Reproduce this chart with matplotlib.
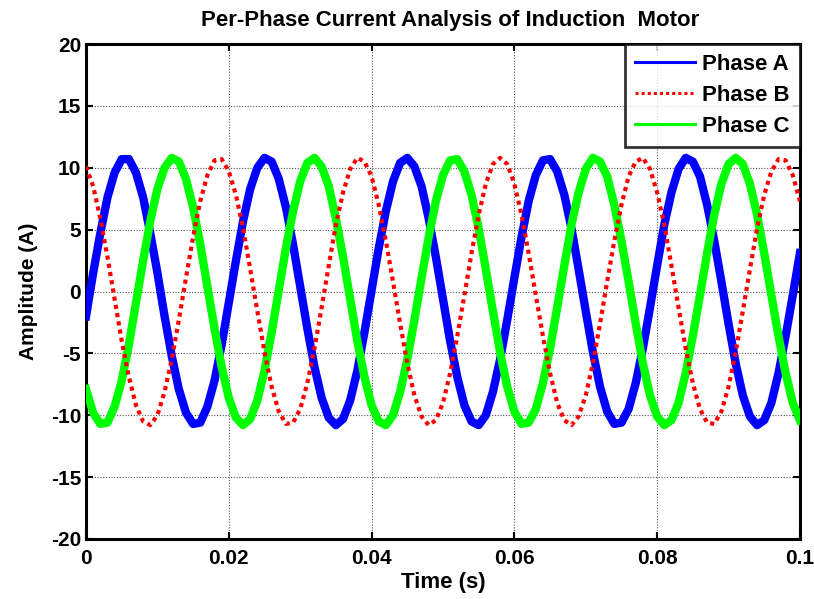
# Per-phase current plot, MATLAB look
import numpy as np
import matplotlib
matplotlib.use("Agg")
import matplotlib.pyplot as plt

# time axis in seconds, 1 ms steps
time_ms = list(range(0, 101))

# currents at each 1 ms step (A)
phase_a = [-2.0, 1.5, 4.7, 7.6, 9.6, 10.7, 10.7, 9.6, 7.6, 4.7,
           1.5, -2.0, -5.2, -7.9, -9.8, -10.7, -10.6, -9.3, -7.2, -4.3,
           -0.9, 2.5, 5.7, 8.3, 10.0, 10.8, 10.5, 9.1, 6.8, 3.8,
           0.4, -3.0, -6.1, -8.6, -10.2, -10.8, -10.3, -8.8, -6.4, -3.3,
           0.1, 3.5, 6.5, 8.9, 10.4, 10.8, 10.1, 8.5, 5.9, 2.8,
           -0.6, -4.0, -6.9, -9.2, -10.5, -10.8, -10.0, -8.1, -5.5, -2.3,
           1.1, 4.4, 7.3, 9.4, 10.6, 10.7, 9.7, 7.8, 5.1, 1.8,
           -1.6, -4.9, -7.7, -9.7, -10.7, -10.6, -9.5, -7.4, -4.6, -1.3,
           2.1, 5.4, 8.0, 9.9, 10.8, 10.5, 9.3, 7.0, 4.1, 0.8,
           -2.6, -5.8, -8.4, -10.1, -10.8, -10.4, -9.0, -6.6, -3.6, -0.3,
           3.1]
phase_b = [10.1, 8.5, 5.9, 2.8, -0.6, -4.0, -6.9, -9.2, -10.5, -10.8,
           -10.0, -8.1, -5.5, -2.3, 1.1, 4.4, 7.3, 9.4, 10.6, 10.7,
           9.7, 7.8, 5.1, 1.8, -1.6, -4.9, -7.7, -9.7, -10.7, -10.6,
           -9.5, -7.4, -4.6, -1.3, 2.1, 5.4, 8.0, 9.9, 10.8, 10.5,
           9.3, 7.0, 4.1, 0.8, -2.6, -5.8, -8.4, -10.1, -10.8, -10.4,
           -9.0, -6.6, -3.6, -0.3, 3.1, 6.2, 8.7, 10.3, 10.8, 10.3,
           8.7, 6.2, 3.1, -0.3, -3.6, -6.6, -9.0, -10.4, -10.8, -10.1,
           -8.4, -5.8, -2.6, 0.8, 4.1, 7.0, 9.3, 10.5, 10.8, 9.9,
           8.0, 5.4, 2.1, -1.3, -4.6, -7.4, -9.5, -10.6, -10.7, -9.7,
           -7.7, -4.9, -1.6, 1.8, 5.1, 7.8, 9.7, 10.7, 10.6, 9.4,
           7.3]
phase_c = [-7.9, -9.8, -10.7, -10.6, -9.3, -7.2, -4.3, -0.9, 2.5, 5.7,
           8.3, 10.0, 10.8, 10.5, 9.1, 6.8, 3.8, 0.4, -3.0, -6.1,
           -8.6, -10.2, -10.8, -10.3, -8.8, -6.4, -3.3, 0.1, 3.5, 6.5,
           8.9, 10.4, 10.8, 10.1, 8.5, 5.9, 2.8, -0.6, -4.0, -6.9,
           -9.2, -10.5, -10.8, -10.0, -8.1, -5.5, -2.3, 1.1, 4.4, 7.3,
           9.4, 10.6, 10.7, 9.7, 7.8, 5.1, 1.8, -1.6, -4.9, -7.7,
           -9.7, -10.7, -10.6, -9.5, -7.4, -4.6, -1.3, 2.1, 5.4, 8.0,
           9.9, 10.8, 10.5, 9.3, 7.0, 4.1, 0.8, -2.6, -5.8, -8.4,
           -10.1, -10.8, -10.4, -9.0, -6.6, -3.6, -0.3, 3.1, 6.2, 8.7,
           10.3, 10.8, 10.3, 8.7, 6.2, 3.1, -0.3, -3.6, -6.6, -9.0,
           -10.4]

series_names = ["Phase A", "Phase B", "Phase C"]
x_ticks = [0, 0.02, 0.04, 0.06, 0.08, 0.1]
x_tick_labels = ["0", "0.02", "0.04", "0.06", "0.08", "0.1"]
y_ticks = [-20, -15, -10, -5, 0, 5, 10, 15, 20]

plt.rcParams['font.family'] = ['Liberation Sans', 'DejaVu Sans']
plt.rcParams['font.weight'] = 'bold'
plt.rcParams['axes.unicode_minus'] = False

t = np.array(time_ms) / 1000.0

fig = plt.figure(figsize=(8.14, 5.99), dpi=100)
ax = fig.add_axes([0.1057, 0.1002, 0.877, 0.8263])

ax.plot(t, phase_a, color="#0000ff", linewidth=6, solid_joinstyle="round",
        label=series_names[0], zorder=3)
ax.plot(t, phase_b, color="#ff0000", linewidth=3.0, linestyle=(0, (1, 1)),
        label=series_names[1], zorder=4)
ax.plot(t, phase_c, color="#00ff00", linewidth=6, solid_joinstyle="round",
        label=series_names[2], zorder=3)

ax.set_xlim(0, 0.1)
ax.set_ylim(-20, 20)
ax.set_xticks(x_ticks)
ax.set_xticklabels(x_tick_labels)
ax.set_yticks(y_ticks)

ax.tick_params(direction="in", length=5, width=1.5, top=True, right=True,
               labelsize=15)
ax.tick_params(axis="x", pad=7)
ax.tick_params(axis="y", pad=3.5)
for lbl in ax.get_xticklabels() + ax.get_yticklabels():
    lbl.set_fontweight("bold")
for sp in ax.spines.values():
    sp.set_linewidth(2.2)

ax.grid(True, color="#555555", linestyle=(0, (1, 1.5)), linewidth=0.8)
ax.set_axisbelow(True)

ax.set_xlabel("Time (s)", fontsize=16, fontweight="bold", labelpad=3)
ax.set_ylabel("Amplitude (A)", fontsize=15, fontweight="bold", labelpad=9)
ax.set_title("Per-Phase Current Analysis of Induction  Motor", fontsize=16,
             fontweight="bold", pad=13, x=0.51)

leg = ax.legend(loc="upper right", fontsize=16, frameon=True, fancybox=False,
                borderaxespad=0, handlelength=2.7, borderpad=0.45,
                labelspacing=0.45, handletextpad=0.35)
leg.get_frame().set_edgecolor("black")
leg.get_frame().set_linewidth(2)
for h in leg.get_lines():
    h.set_linewidth(2.2)

fig.savefig("out.png", dpi=100)
